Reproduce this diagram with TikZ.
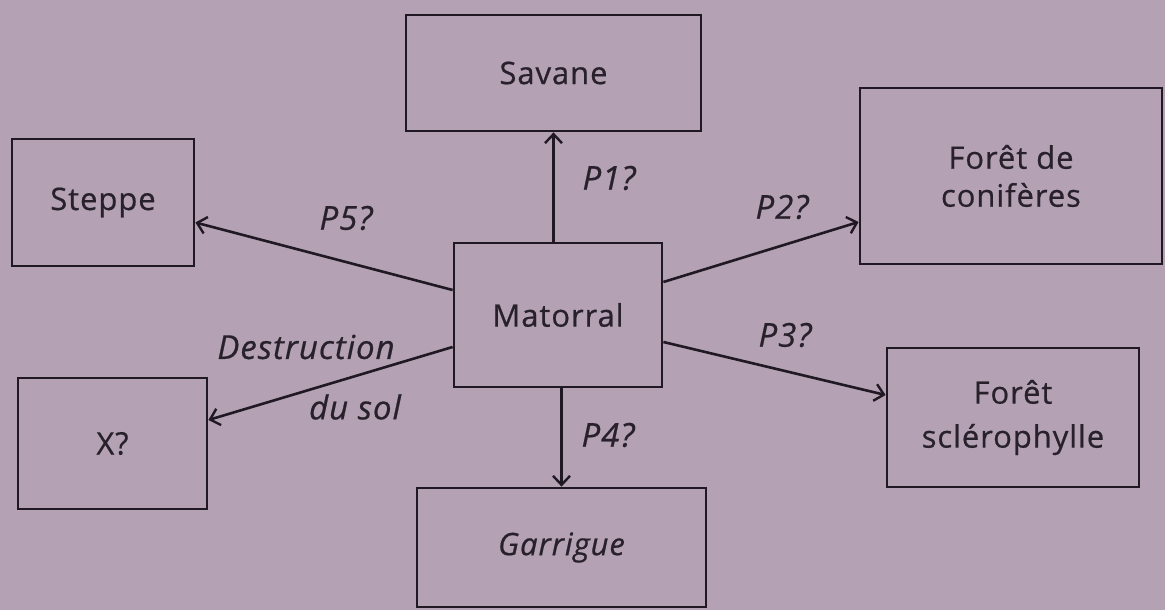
\documentclass[tikz,border=0pt]{standalone}
\usepackage{fontspec}
\setmainfont{Open Sans}[LetterSpace=3,FakeBold=0.6]
\usetikzlibrary{arrows.meta,calc}
\definecolor{bg}{RGB}{180,162,180}
\definecolor{ink}{RGB}{32,25,35}
\definecolor{txt}{RGB}{40,33,44}
\begin{document}
\begin{tikzpicture}[x=1pt,y=-1pt,
  box/.style={draw=ink, line width=2.8pt, text=txt, inner sep=0pt, align=center,
    font=\fontsize{31}{38}\selectfont},
  lbl/.style={text=txt, inner sep=0pt, font=\fontsize{33}{36}\selectfont\itshape},
  arr/.style={draw=ink, line width=2.6pt, -{Straight Barb[length=9pt,width=17pt,line width=2.4pt]}}]
\fill[bg] (0,0) rectangle (1165,610);
\useasboundingbox (0,0) rectangle (1165,610);
\node[box, minimum width=295pt, minimum height=116pt] (sav) at (553.5,73) {Savane};
\node[box, minimum width=182pt, minimum height=127pt] (stp) at (103,202.5) {Steppe};
\node[box, minimum width=302pt, minimum height=176pt] (con) at (1011,176) {Forêt de\\conifères};
\node[box, minimum width=208pt, minimum height=144pt] (mat) at (558,315) {Matorral};
\node[box, minimum width=189pt, minimum height=131pt] (xx) at (112.5,443.5) {X?};
\node[box, minimum width=252pt, minimum height=139pt, font=\fontsize{31}{44}\selectfont] (scl) at (1013,417.5) {Forêt\\sclérophylle};
\node[box, minimum width=289pt, minimum height=119pt, font=\fontsize{31}{38}\selectfont\itshape] (gar) at (561.5,547.5) {Garrigue};
\draw[arr] (mat.north -| sav.south) -- (sav.south);
\draw[arr] ($(mat.west)+(0,-25)$) -- ($(stp.east)+(0,20)$);
\draw[arr] ($(mat.east)+(0,-33)$) -- ($(con.west)+(0,46)$);
\draw[arr] ($(mat.east)+(0,27)$) -- ($(scl.west)+(0,-22.5)$);
\draw[arr] (mat.south -| gar.north) -- (gar.north);
\draw[arr] ($(mat.west)+(0,32)$) -- ($(xx.east)+(0,-23.5)$);
\node[lbl] (p1) at (609,178) {P1?};
\node[lbl] (p5) at (346,218) {P5?};
\node[lbl] (p2) at (782,207) {P2?};
\node[lbl] (p3) at (785,335) {P3?};
\node[lbl] (p4) at (608,435) {P4?};
\node[lbl] (d1) at (306,347) {Destruction};
\node[lbl] (d2) at (355,407) {du sol};
\end{tikzpicture}
\end{document}
